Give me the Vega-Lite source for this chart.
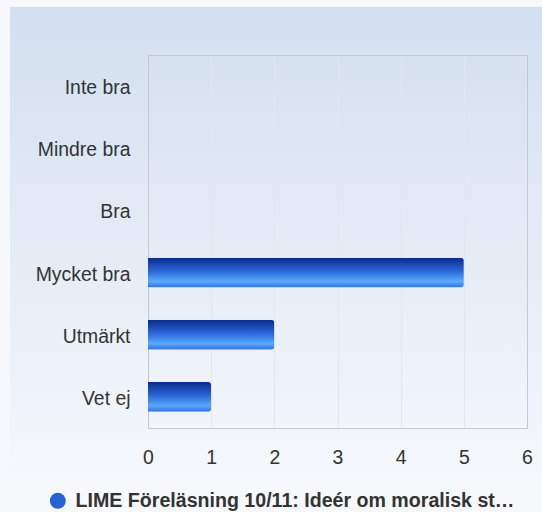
{
  "$schema": "https://vega.github.io/schema/vega-lite/v6.json",
  "width": 532,
  "height": 469,
  "autosize": {"type": "none"},
  "padding": {"left": 10, "top": 7, "right": 0, "bottom": 36},
  "background": "#f6f8fc",
  "config": {
    "font": "Liberation Sans",
    "view": {
      "stroke": null,
      "fill": {
        "gradient": "linear", "x1": 0, "y1": 0, "x2": 0, "y2": 1,
        "stops": [
          {"offset": 0, "color": "#d3dff0"},
          {"offset": 1, "color": "#f5f8fc"}
        ]
      }
    }
  },
  "data": {
    "values": [
      {"answer": "Inte bra", "count": 0, "series": "LIME Föreläsning 10/11: Ideér om moralisk st…"},
      {"answer": "Mindre bra", "count": 0, "series": "LIME Föreläsning 10/11: Ideér om moralisk st…"},
      {"answer": "Bra", "count": 0, "series": "LIME Föreläsning 10/11: Ideér om moralisk st…"},
      {"answer": "Mycket bra", "count": 5, "series": "LIME Föreläsning 10/11: Ideér om moralisk st…"},
      {"answer": "Utmärkt", "count": 2, "series": "LIME Föreläsning 10/11: Ideér om moralisk st…"},
      {"answer": "Vet ej", "count": 1, "series": "LIME Föreläsning 10/11: Ideér om moralisk st…"}
    ]
  },
  "encoding": {
    "y": {
      "field": "answer", "type": "nominal",
      "sort": ["Inte bra", "Mindre bra", "Bra", "Mycket bra", "Utmärkt", "Vet ej"],
      "scale": {"range": [48, 421], "paddingInner": 0.52, "paddingOuter": 0.26},
      "axis": {
        "orient": "left", "offset": -138, "title": null,
        "domain": true, "domainColor": "#c8c8c8", "ticks": false, "grid": false,
        "labelFontSize": 19.4, "labelColor": "#333333", "labelPadding": 18, "labelLimit": 200,
        "labelOffset": 2
      }
    }
  },
  "layer": [
    {
      "mark": {
        "type": "bar", "cornerRadiusEnd": 3,
        "color": {
          "gradient": "linear", "x1": 0, "y1": 0, "x2": 0, "y2": 1,
          "stops": [
            {"offset": 0, "color": "#0a2a8a"},
            {"offset": 0.45, "color": "#2a66d8"},
            {"offset": 0.8, "color": "#5aaaff"},
            {"offset": 1, "color": "#2e6fdc"}
          ]
        }
      },
      "encoding": {
        "x": {
          "field": "count", "type": "quantitative",
          "scale": {"domain": [0, 6], "range": [138, 517], "nice": false},
          "axis": {
            "orient": "bottom", "offset": -48, "title": null,
            "values": [0, 1, 2, 3, 4, 5, 6],
            "domain": true, "domainColor": "#c8c8c8", "ticks": false,
            "grid": true, "labelFlush": false,
            "gridColor": {"condition": {"test": "datum.value === 0 || datum.value === 6", "value": "#c8c8c8"}, "value": "#e3e7ec"},
            "labelFontSize": 19.4, "labelColor": "#333333", "labelPadding": 20
          }
        }
      }
    },
    {
      "mark": {"type": "bar", "opacity": 0},
      "encoding": {
        "x": {
          "field": "count", "type": "quantitative",
          "axis": {
            "orient": "top", "offset": -48, "title": null,
            "labels": false, "ticks": false, "grid": false,
            "domain": true, "domainColor": "#c8c8c8"
          }
        },
        "color": {
          "field": "series", "type": "nominal",
          "scale": {"range": ["#2563d4"]},
          "legend": {
            "orient": "none", "legendX": 38, "legendY": 484, "title": null,
            "symbolType": "circle", "symbolSize": 256, "symbolStrokeWidth": 0, "symbolOpacity": 1,
            "labelFontSize": 19.6, "labelFontWeight": "bold", "labelColor": "#333333",
            "labelLimit": 600, "labelOffset": 8, "padding": 0
          }
        }
      }
    }
  ],
  "resolve": {"axis": {"x": "independent"}}
}
